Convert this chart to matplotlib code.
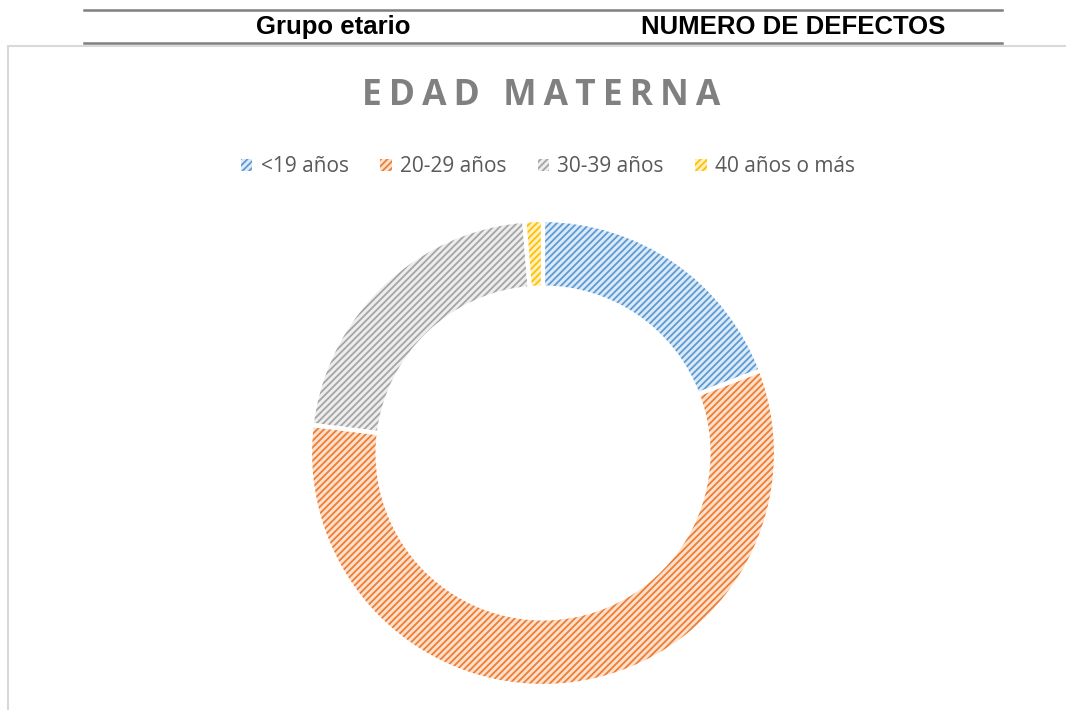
import matplotlib

matplotlib.use("Agg")
import matplotlib.pyplot as plt
from matplotlib.lines import Line2D
from matplotlib.patches import Rectangle

labels = ["<19 años", "20-29 años", "30-39 años", "40 años o más"]
counts = [15, 45, 17, 1]
colors = ["#5B9BD5", "#ED7D31", "#A5A5A5", "#FFC000"]
light = ["#DCE9F6", "#FCE0CD", "#EDEDED", "#FFF0C2"]
header = ["Grupo etario", "NUMERO DE DEFECTOS"]

W, H = 1066, 710
fig = plt.figure(figsize=(W / 100, H / 100), dpi=100)
plt.rcParams["hatch.linewidth"] = 1.3

# header row of the table above the chart
for yy in (10, 43):
    fig.add_artist(Line2D([84 / W, 1002 / W], [1 - yy / H, 1 - yy / H], color="#7F7F7F", lw=1.8))
fig.text(333 / W, 1 - 27 / H, header[0], ha="center", va="center", fontsize=18.5,
         fontweight="bold", family="Liberation Sans")
fig.text(793 / W, 1 - 27 / H, header[1], ha="center", va="center", fontsize=18.5,
         fontweight="bold", family="Liberation Sans")

# chart area border
fig.add_artist(Rectangle((8 / W, -0.01), 1.0, 1 - 46 / H + 0.01, transform=fig.transFigure,
                         fill=False, edgecolor="#D9D9D9", lw=1.5))

fig.text(541 / W, 1 - 96 / H, "\u2009".join("EDAD MATERNA"), ha="center",
         va="center", fontsize=25.5, fontweight="bold", color="#808080", family="Open Sans")

cx, cy, r = 543, 453, 233
ax = fig.add_axes([(cx - r) / W, (H - cy - r) / H, 2 * r / W, 2 * r / H])
wedges, _ = ax.pie(counts, startangle=90, counterclock=False, radius=1.0,
                   wedgeprops=dict(width=0.29, linewidth=0))
for w, c, lc in zip(wedges, colors, light):
    w.set_facecolor(lc)
    w.set_hatch("/////")
    w.set_edgecolor(c)
# white separators between slices
ax.pie(counts, startangle=90, counterclock=False, radius=1.0,
       wedgeprops=dict(width=0.29, edgecolor="white", linewidth=3, fill=False))
ax.set_xlim(-1, 1)
ax.set_ylim(-1, 1)
ax.set_aspect("equal")
ax.axis("off")

handles = [Rectangle((0, 0), 1, 1, facecolor=lc, edgecolor=c, hatch="/////", lw=0)
           for c, lc in zip(colors, light)]
fig.legend(handles, labels, loc="center", bbox_to_anchor=(548 / W, 1 - 167 / H), ncol=4,
           frameon=False, handlelength=0.55, handleheight=0.55,
           handletextpad=0.4, columnspacing=1.5, labelcolor="#595959",
           prop=dict(family="Open Sans", size=15))

fig.savefig("out.png", dpi=100)
